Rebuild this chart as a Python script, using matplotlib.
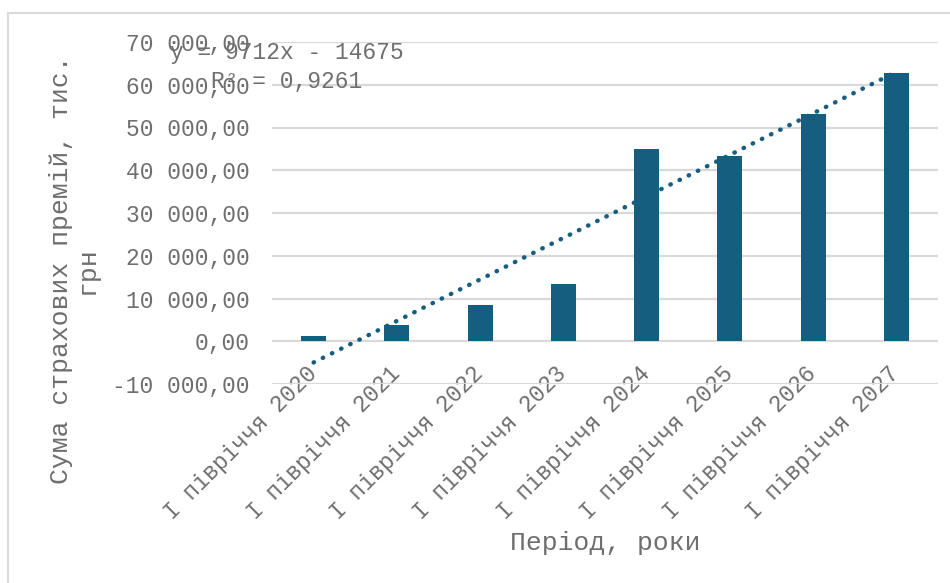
import matplotlib
matplotlib.use("Agg")
import matplotlib.pyplot as plt
from matplotlib.patches import Rectangle
from matplotlib.transforms import ScaledTranslation

# data
periods = ["I півріччя 2020", "I півріччя 2021", "I півріччя 2022", "I півріччя 2023",
           "I півріччя 2024", "I півріччя 2025", "I півріччя 2026", "I півріччя 2027"]
premiums = [1200, 3700, 8400, 13300, 44900, 43400, 53100, 62800]

# linear trendline shown on the chart
trend_slope = 9712
trend_intercept = -14675
trend_r2 = 0.9261

y_ticks = [-10000, 0, 10000, 20000, 30000, 40000, 50000, 60000, 70000]

bar_color = "#165E80"
grid_color = "#D9D9D9"
text_color = "#6E6E6E"
font = ["Liberation Mono", "DejaVu Sans Mono"]

plt.rcParams["font.family"] = font

W, H = 950, 583
fig = plt.figure(figsize=(W / 100, H / 100), dpi=100)

def fx(px):
    return px / W

def fy(py):
    return 1 - py / H

# outer chart frame (cut off at right and bottom in the reference)
fig.patches.append(Rectangle((fx(8), fy(600)), fx(960) - fx(8), fy(13) - fy(600),
                             transform=fig.transFigure, fill=False,
                             edgecolor=grid_color, linewidth=1.5))

ax = fig.add_axes([fx(272), fy(384), fx(938) - fx(272), fy(42) - fy(384)])

pos = list(range(len(periods)))
ax.bar(pos, premiums, width=0.3, color=bar_color, zorder=3)

# trendline over the category numbers 1..n
tx = [p for p in pos]
ty = [trend_slope * (p + 1) + trend_intercept for p in pos]
ax.plot(tx, ty, linestyle=(0, (0.1, 2.2)), dash_capstyle="round",
        linewidth=3.2, color=bar_color, zorder=4)

ax.set_xlim(-0.5, len(periods) - 0.5)
ax.set_ylim(y_ticks[0], y_ticks[-1])
ax.set_yticks(y_ticks)
ax.set_yticklabels([f"{v:,.2f}".replace(",", " ").replace(".", ",") for v in y_ticks])
ax.grid(axis="y", color=grid_color, linewidth=1.6, zorder=0)
ax.set_axisbelow(True)

for s in ["top", "right", "left"]:
    ax.spines[s].set_visible(False)
ax.spines["bottom"].set_position(("data", 0))
ax.spines["bottom"].set_color("none")

ax.set_xticks(pos)
ax.set_xticklabels(periods, rotation=45, ha="right", rotation_mode="anchor")
ax.tick_params(axis="x", length=0, pad=15, labelsize=16.5, labelcolor=text_color)
ax.tick_params(axis="y", length=0, pad=16, labelsize=16.5, labelcolor=text_color)
shift = ScaledTranslation(-6 / 72, 0, fig.dpi_scale_trans)
for lab in ax.get_xticklabels():
    lab.set_transform(lab.get_transform() + shift)

fig.text(fx(287), fy(53), f"y = {trend_slope}x - {abs(trend_intercept)}",
         ha="center", va="center", fontsize=16.5, color=text_color)
fig.text(fx(287), fy(82), "R² = " + f"{trend_r2:.4f}".replace(".", ","),
         ha="center", va="center", fontsize=16.5, color=text_color)

fig.text(fx(74), fy(270), "Сума страхових премій, тис.\nгрн", rotation=90,
         ha="center", va="center", multialignment="center", linespacing=1.1,
         fontsize=19, color=text_color)
fig.text(fx(605), fy(543), "Період, роки", ha="center", va="center",
         fontsize=19, color=text_color)

fig.savefig("out.png", dpi=100)
